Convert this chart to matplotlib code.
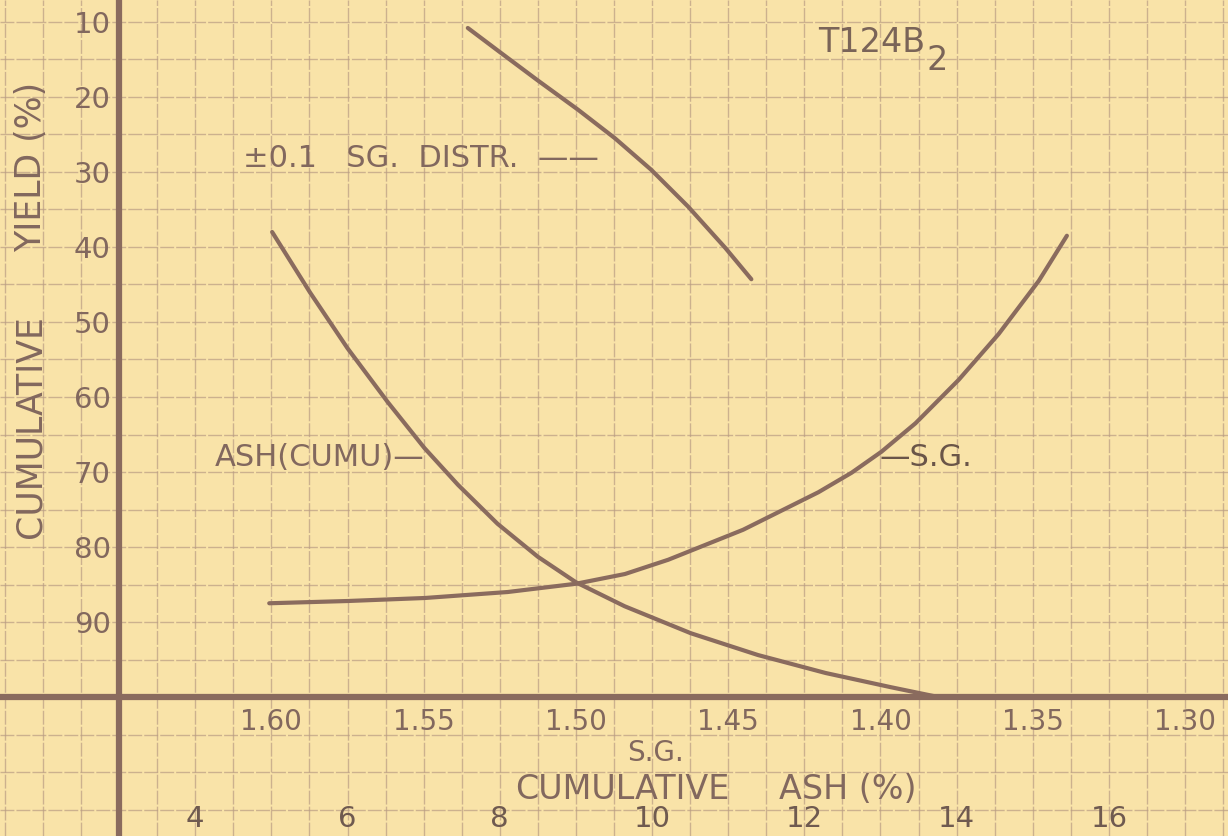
import numpy as np
import matplotlib
matplotlib.use("Agg")
import matplotlib.pyplot as plt

# ---- data ----
# +-0.1 S.G. distribution (yield % vs S.G.)
dist_sg    = [1.5355, 1.5247, 1.5125, 1.4993, 1.4872, 1.4753, 1.4632, 1.4510, 1.4424]
dist_yield = [10.8, 14.1, 17.8, 21.7, 25.5, 29.7, 34.6, 40.1, 44.3]

# cumulative yield vs S.G.
sg_vals   = [1.6007, 1.5750, 1.5497, 1.5224, 1.5000, 1.4839, 1.4697, 1.4451, 1.4204,
             1.4095, 1.3997, 1.3885, 1.3743, 1.3612, 1.3480, 1.3388]
sg_yield  = [87.5, 87.2, 86.8, 86.0, 84.9, 83.6, 81.7, 77.7, 72.7,
             70.1, 67.3, 63.5, 57.7, 51.6, 44.5, 38.5]

# cumulative yield vs cumulative ash (%)
ash_vals  = [5.01, 5.51, 6.00, 6.53, 7.01, 7.45, 7.97, 8.50, 9.00, 9.64,
             10.51, 11.39, 12.28, 13.14, 13.76]
ash_yield = [38.0, 46.1, 53.5, 60.7, 66.8, 71.7, 76.9, 81.3, 84.7, 87.9,
             91.5, 94.4, 96.8, 98.7, 100.0]

yield_ticks = [10, 20, 30, 40, 50, 60, 70, 80, 90]
sg_ticks    = [1.60, 1.55, 1.50, 1.45, 1.40, 1.35, 1.30]
sg_labels   = ["1.60", "1.55", "1.50", "1.45", "1.40", "1.35", "1.30"]
ash_ticks   = [4, 6, 8, 10, 12, 14, 16]

# ---- styling ----
PAPER = "#f9e3a8"
INK   = "#8a6b5e"
TEXT  = "#82685e"
GRID  = "#b99c84"

def sg2ash(sg):
    return 3 + 40 * (1.65 - np.asarray(sg))

SG_LIM = (1.6891, 1.2859)
Y_LIM  = (118.53, 7.07)

fig = plt.figure(figsize=(12.28, 8.36), dpi=100, facecolor=PAPER)
ax = fig.add_axes([0, 0, 1, 1], facecolor=PAPER)
ax.set_xlim(*SG_LIM); ax.set_ylim(*Y_LIM)

# graph paper grid
ax.set_xticks(np.arange(1.2875, 1.69, 0.0125), minor=True)
ax.set_yticks(np.arange(10, 119, 5), minor=True)
ax.grid(which="both", color=GRID, lw=1.0, alpha=0.7, ls=(0, (10, 1.5)))
ax.set_axisbelow(True)

# axes lines on the paper
for s in ("top", "right"):
    ax.spines[s].set_visible(False)
ax.spines["left"].set_position(("data", 1.65))
ax.spines["bottom"].set_position(("data", 100))
for s in ("left", "bottom"):
    ax.spines[s].set_color(INK); ax.spines[s].set_linewidth(4.5)

ax.set_yticks(yield_ticks)
ax.set_yticklabels([str(v) for v in yield_ticks])
ax.set_xticks(sg_ticks)
ax.set_xticklabels(sg_labels)
ax.tick_params(axis="y", which="both", length=0, pad=6, labelsize=21, labelcolor=TEXT)
ax.tick_params(axis="x", which="both", length=0, pad=8, labelsize=20, labelcolor=TEXT)

# curves
ax.plot(dist_sg, dist_yield, color=INK, lw=3.0, solid_capstyle="round", zorder=3)
ax.plot(sg_vals, sg_yield, color=INK, lw=3.0, solid_capstyle="round", zorder=3)

ax_ash = ax.twiny()
ax_ash.set_xlim(*sg2ash(SG_LIM))
ax_ash.plot(ash_vals, ash_yield, color=INK, lw=3.0, solid_capstyle="round", zorder=3)
for s in ax_ash.spines.values():
    s.set_visible(False)
ax_ash.xaxis.set_ticks_position("bottom")
ax_ash.set_xticks(ash_ticks)
ax_ash.set_xticklabels([str(v) for v in ash_ticks])
ax_ash.tick_params(axis="x", length=0, pad=-22, labelsize=21, labelcolor="#6f5a50")

# annotations
ax.text(1.6093, 28.2, "±0.1   SG.  DISTR.  ——", fontsize=22, color=TEXT, va="center", ha="left")
ax.text(1.6185, 68.0, "ASH(CUMU)—", fontsize=22, color=TEXT, va="center", ha="left")
ax.text(1.4002, 68.0, "—S.G.", fontsize=22, color="#6a5548", va="center", ha="left")
t = ax.text(1.4205, 12.7, "T124B", fontsize=24, color="#7a6458", va="center", ha="left")
ax.annotate("2", xy=(1, 0), xycoords=t, xytext=(1, -13), textcoords="offset points",
            fontsize=24, color="#7a6458", va="bottom", ha="left")

# axis titles
ax.text(1.4740, 107.4, "S.G.", fontsize=20, color=TEXT, ha="center", va="center")
ax.text(1.4849, 112.3, "CUMULATIVE", fontsize=24, color=TEXT, ha="center", va="center")
ax.text(1.4107, 112.3, "ASH (%)", fontsize=24, color=TEXT, ha="center", va="center")
ax.text(0.025, 0.49, "CUMULATIVE", transform=ax.transAxes, rotation=90, fontsize=25,
        color=TEXT, ha="center", va="center")
ax.text(0.025, 0.80, "YIELD (%)", transform=ax.transAxes, rotation=90, fontsize=25,
        color=TEXT, ha="center", va="center")

fig.savefig("out.png", dpi=100, facecolor=PAPER)
